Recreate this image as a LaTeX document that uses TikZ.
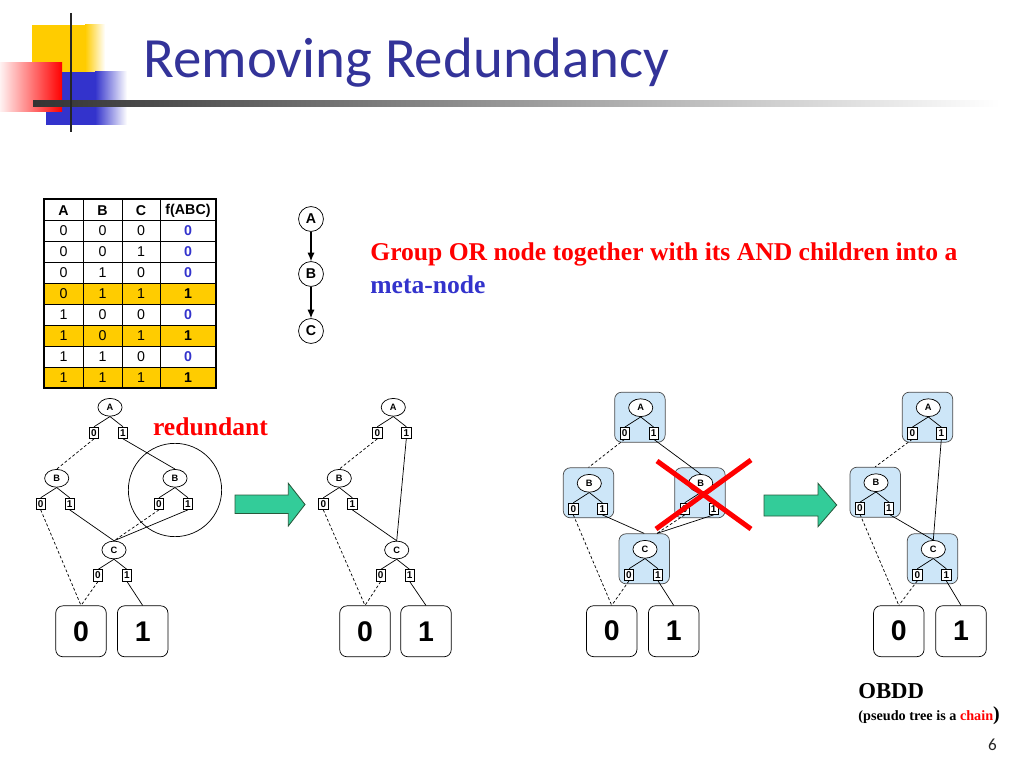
\documentclass[tikz,border=0pt]{standalone}
\usepackage{fontspec}
\setmainfont{Liberation Serif}
\newfontfamily\arialf{Liberation Sans}
\newfontfamily\calibrif{Carlito}
\usetikzlibrary{calc,shapes.geometric,arrows.meta}
\definecolor{ttlblue}{RGB}{51,51,153}
\definecolor{gold}{RGB}{255,204,0}
\definecolor{mblue}{RGB}{51,51,204}
\definecolor{metafill}{RGB}{205,230,248}
\definecolor{arrgreen}{RGB}{51,204,153}
\definecolor{arrline}{RGB}{40,90,60}
% OR node with its two AND children
\newcommand{\orgrp}[4]{%
 \begin{scope}[shift={(#2,#3)}]
 \node[ornd] (#1) at (0,0) {#4};
 \node[andbx] (#1-0) at (-16,25.5) {0}; \node[andbx] (#1-1) at (13,25.5) {1};
 \draw (#1.south) -- (#1-0.north); \draw (#1.south) -- (#1-1.north);
 \end{scope}}
\newcommand{\metagrp}[4]{%
 \node[metabx] (#1-m) at (#2-0.8,#3+9.5) {};
 \orgrp{#1}{#2}{#3}{#4}}

\begin{document}
\begin{tikzpicture}[x=0.703125pt, y=-0.703125pt, line width=0.5pt,
 ornd/.style={ellipse, draw, fill=white, inner sep=0pt, minimum width=17pt, minimum height=12.5pt, font=\arialf\bfseries\fontsize{6.5}{6.5}\selectfont},
 andbx/.style={draw, fill=white, inner sep=0pt, minimum width=6.5pt, minimum height=8pt, font=\arialf\bfseries\fontsize{7}{7}\selectfont},
 termbx/.style={draw, fill=white, rounded corners=5pt, inner sep=0pt, minimum width=35.5pt, minimum height=35.8pt, font=\arialf\bfseries\fontsize{20}{20}\selectfont},
 metabx/.style={draw=black!70, fill=metafill, rounded corners=5pt, inner sep=0pt, minimum width=35.5pt, minimum height=35.2pt},
 chnd/.style={circle, draw, fill=white, inner sep=0pt, minimum size=17.5pt, font=\arialf\bfseries\fontsize{10}{10}\selectfont},
 tcell/.style={inner sep=0pt, font=\arialf\fontsize{10}{12}\selectfont},
 zero/.style={dash pattern=on 2pt off 1.5pt},
 bigarr/.style={fill=arrgreen, draw=arrline, line width=0.6pt},
 xline/.style={red, line width=3.5pt}]
\useasboundingbox (0,0) rectangle (1024,768);
% logo and title
\fill[gold] (32,25) rectangle (85,72); \shade[left color=gold, right color=white] (85,25) rectangle (105,72);
\fill[mblue] (46,72) rectangle (95,125); \shade[left color=mblue, right color=white] (95,72) rectangle (127,125);
\shade[left color=red!5, right color=red] (0,63) rectangle (62,112);
\shade[left color=black!80, right color=white] (33,100.5) rectangle (1000,106.5);
\draw[black!85, line width=2pt] (71,13) -- (71,132);
\node[anchor=base west, inner sep=0pt, text=ttlblue, font=\calibrif\fontsize{40}{48}\selectfont] (ttl) at (143,78) {Removing Redundancy};
% truth table
\foreach \k in {4,6,8} \fill[gold] (44,199+21*\k) rectangle (216,220+21*\k);
\foreach \k in {1,...,8} \draw (44,199+21*\k) -- (216,199+21*\k);
\foreach \xx in {83,122,160} \draw (\xx,199) -- (\xx,388);
\draw[line width=1.2pt] (44,199) rectangle (216,388);
\foreach \h/\xx [count=\i] in {A/63.5,B/102.5,C/141,f(ABC)/188}
 \node[tcell, font=\arialf\bfseries\fontsize{10}{12}\selectfont] (hd\i) at (\xx,210.5) {\h};
\foreach \a/\b/\c/\f [count=\r] in {0/0/0/0,0/0/1/0,0/1/0/0,0/1/1/1,1/0/0/0,1/0/1/1,1/1/0/0,1/1/1/1} {
 \ifnum\f=0 \def\fc{mblue}\else\def\fc{black}\fi
 \node[tcell] (cell-\r-1) at (63.5,209.5+21*\r) {\a}; \node[tcell] (cell-\r-2) at (102.5,209.5+21*\r) {\b};
 \node[tcell] (cell-\r-3) at (141,209.5+21*\r) {\c};
 \node[tcell, text=\fc, font=\arialf\bfseries\fontsize{10}{12}\selectfont] (cell-\r-4) at (188,209.5+21*\r) {\f};
}
% pseudo tree
\node[chnd] (chA) at (311,219) {A}; \node[chnd] (chB) at (311,274) {B}; \node[chnd] (chC) at (311,331) {C};
\draw[line width=0.8pt, -{Latex[length=6pt,width=5pt]}] (chA) -- (chB);
\draw[line width=0.8pt, -{Latex[length=6pt,width=5pt]}] (chB) -- (chC);
\node[anchor=base west, inner sep=0pt, text=red, font=\bfseries\fontsize{18}{21.6}\selectfont] (grp) at (370,261) {Group OR node together with its AND children into a};
\node[anchor=base west, inner sep=0pt, text=mblue, font=\bfseries\fontsize{18}{21.6}\selectfont] (mnd) at (370,293) {meta-node};
% full tree
\orgrp{aA}{110}{407.3}{A} \orgrp{aB}{56.7}{478.3}{B} \orgrp{aBr}{175}{478.3}{B} \orgrp{aC}{114}{550}{C}
\node[termbx] (ta0) at (81,631.3) {0}; \node[termbx] (ta1) at (142.7,631.3) {1};
\node[circle, draw, inner sep=0pt, minimum size=65.6pt] (rdc) at (175,490) {};
\node[anchor=base west, inner sep=0pt, text=red, font=\bfseries\fontsize{18}{18}\selectfont] (rdt) at (152.7,435) {redundant};
\draw[zero] (aA-0.south) -- (aB.north); \draw (aA-1.south) -- (aBr.north);
\draw[zero] (aB-0.south) -- (ta0.north); \draw (aB-1.south) -- (aC.north);
\draw[zero] (aBr-0.south) -- (aC.north); \draw (aBr-1.south) -- (aC.north);
\draw[zero] (aC-0.south) -- (ta0.north); \draw (aC-1.south) -- (ta1.north);
\draw[bigarr] (235,495) -- (288.3,495) -- (288.3,483.3) -- (305,504.5) -- (288.3,526) -- (288.3,513.5) -- (235,513.5) -- cycle;
% reduced tree
\orgrp{bA}{393.3}{407.3}{A} \orgrp{bB}{339.3}{478.3}{B} \orgrp{bC}{396.7}{550}{C}
\node[termbx] (tb0) at (365,631.3) {0}; \node[termbx] (tb1) at (426,631.3) {1};
\draw[zero] (bA-0.south) -- (bB.north); \draw (bA-1.south) -- (bC.north);
\draw[zero] (bB-0.south) -- (tb0.north); \draw (bB-1.south) -- (bC.north);
\draw[zero] (bC-0.south) -- (tb0.north); \draw (bC-1.south) -- (tb1.north);
% meta-nodes
\metagrp{cA}{640.7}{407.7}{A} \metagrp{cB}{589.3}{483.3}{B} \metagrp{cBr}{700.7}{483.3}{B} \metagrp{cC}{645}{549.3}{C}
\node[termbx] (tc0) at (611.7,631.2) {0}; \node[termbx] (tc1) at (673.7,631.2) {1};
\coordinate (cCin) at ($(cC-m.north)!0.5!(cC-m.north east)$);
\draw[zero] (cA-0.south) -- (cB-m.north); \draw (cA-1.south) -- (cBr.north);
\draw[zero] (cB-0.south) -- (tc0.north); \draw (cB-1.south) -- (cC-m.north);
\draw[zero] (cBr-0.south) -- (cCin); \draw (cBr-1.south) -- (cCin);
\draw[zero] (cC-0.south) -- (tc0.north); \draw (cC-1.south) -- (tc1.north);
\draw[xline] (657,461) -- (751,529); \draw[xline] (751,460) -- (656,529);
\draw[bigarr] (764,495) -- (818,495) -- (818,483.3) -- (836.7,505) -- (818,526.7) -- (818,516) -- (764,516) -- cycle;
% OBDD
\metagrp{dA}{928.3}{407.7}{A} \metagrp{dB}{876}{482.7}{B} \metagrp{dC}{933.3}{549.3}{C}
\node[termbx] (td0) at (898.8,631.2) {0}; \node[termbx] (td1) at (961,631.2) {1};
\draw[zero] (dA-0.south) -- (dB-m.north); \draw (dA-1.south) -- (dC.north);
\draw[zero] (dB-0.south) -- (td0.north); \draw (dB-1.south) -- (dC.north);
\draw[zero] (dC-0.south) -- (td0.north); \draw (dC-1.south) -- (td1.north);
\node[anchor=base west, inner sep=0pt, font=\bfseries\fontsize{16}{16}\selectfont] (obdd) at (858,698) {OBDD};
\node[anchor=base west, inner sep=0pt, font=\bfseries\fontsize{10}{10}\selectfont] (chn) at (858,720) {(pseudo tree is a \textcolor{red}{chain}{\fontsize{14}{14}\selectfont)}};
\node[anchor=base east, inner sep=0pt, text=black!85, font=\calibrif\fontsize{12}{14}\selectfont] (pgno) at (997,750) {6};
\end{tikzpicture}
\end{document}
